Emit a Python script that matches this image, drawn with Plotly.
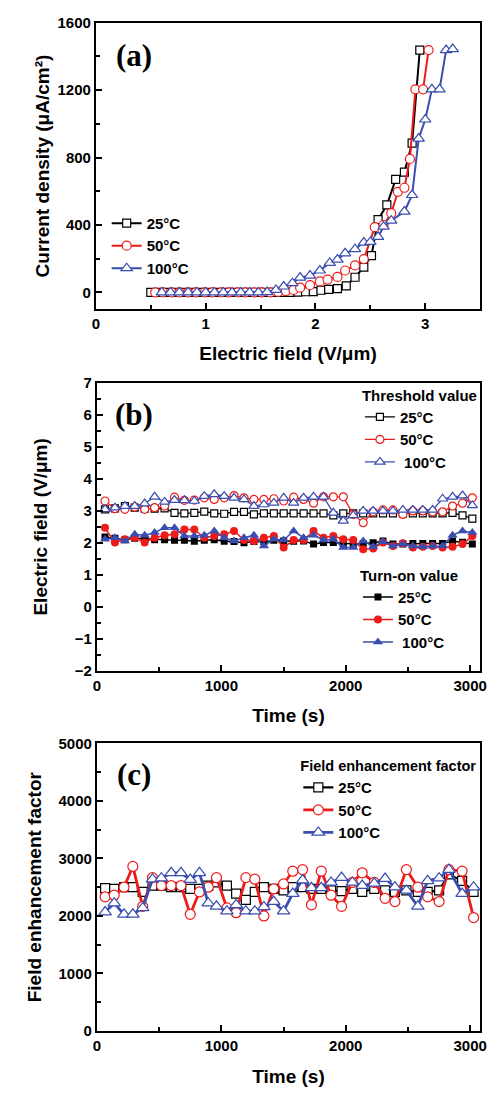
import plotly.graph_objects as go

# ---------------- data ----------------
# (a) J-E curves
E_25 = [0.50, 0.58, 0.65, 0.73, 0.80, 0.88, 0.95, 1.03, 1.10, 1.18, 1.25, 1.33, 1.40, 1.48, 1.55,
        1.63, 1.70, 1.77, 1.84, 1.91, 1.98, 2.05, 2.12, 2.20, 2.28, 2.36, 2.44, 2.51, 2.57, 2.65,
        2.73, 2.81, 2.88, 2.95]
J_25 = [0, 0, 0, 0, 0, 0, 0, 0, 0, 0, 0, 0, 0, 0, 0,
        0, 0, 0, 2, 4, 5, 13, 18, 23, 39, 90, 150, 218, 432, 519,
        671, 714, 886, 1438]
E_50 = [0.54, 0.61, 0.69, 0.76, 0.84, 0.91, 0.99, 1.06, 1.14, 1.21, 1.29, 1.36, 1.44, 1.51, 1.59,
        1.66, 1.73, 1.80, 1.86, 1.95, 2.04, 2.11, 2.20, 2.27, 2.36, 2.44, 2.54, 2.62, 2.69, 2.75,
        2.81, 2.86, 2.91, 2.98, 3.03]
J_50 = [0, 0, 0, 0, 0, 0, 0, 0, 0, 0, 0, 0, 0, 0, 0,
        3, 8, 15, 28, 43, 65, 76, 92, 130, 160, 198, 387, 400, 470, 597,
        621, 792, 1205, 1205, 1438]
E_100 = [0.60, 0.68, 0.76, 0.84, 0.92, 1.00, 1.08, 1.16, 1.24, 1.32, 1.40, 1.48, 1.56, 1.64, 1.71,
         1.79, 1.86, 1.95, 2.04, 2.13, 2.20, 2.27, 2.36, 2.44, 2.50, 2.57, 2.62, 2.69, 2.81, 2.88,
         2.94, 3.00, 3.06, 3.13, 3.19, 3.25]
J_100 = [0, 0, 0, 0, 0, 0, 0, 0, 0, 0, 0, 0, 2, 15, 35,
         55, 88, 100, 130, 175, 195, 232, 257, 296, 300, 330, 390, 426, 480, 578,
         913, 1026, 1205, 1205, 1438, 1444]

# (b) threshold / turn-on field vs time
time_b = [65, 145, 225, 304, 384, 464, 544, 624, 703, 783, 863, 943, 1023, 1102, 1182, 1262, 1342,
          1422, 1501, 1581, 1661, 1741, 1821, 1900, 1980, 2060, 2140, 2220, 2299, 2379, 2459, 2539,
          2619, 2698, 2778, 2858, 2938, 3017]
thr_25 = [3.05, 3.08, 3.15, 3.10, 3.07, 3.07, 3.08, 2.94, 2.92, 2.94, 2.98, 2.92, 2.91, 2.97, 2.97,
          2.89, 2.92, 2.92, 2.92, 2.92, 2.92, 2.92, 2.92, 2.86, 2.92, 2.92, 2.92, 2.92, 2.92, 2.92,
          2.92, 2.92, 2.92, 2.92, 2.92, 2.94, 2.86, 2.76]
thr_50 = [3.31, 3.07, 3.05, 3.12, 3.05, 3.10, 3.15, 3.43, 3.33, 3.34, 3.41, 3.36, 3.41, 3.48, 3.41,
          3.36, 3.36, 3.38, 3.31, 3.43, 3.36, 3.24, 3.44, 3.44, 3.44, 2.89, 2.63, 2.97, 3.03, 3.03,
          2.89, 3.00, 3.00, 2.97, 2.97, 3.15, 3.24, 3.41]
thr_100 = [3.05, 3.10, 3.15, 3.15, 3.23, 3.44, 3.28, 3.34, 3.33, 3.31, 3.46, 3.52, 3.46, 3.41, 3.36,
           3.15, 3.20, 3.25, 3.41, 3.25, 3.41, 3.44, 3.44, 2.94, 2.69, 2.86, 3.00, 3.00, 3.00, 3.00,
           3.03, 3.03, 3.03, 3.03, 3.38, 3.44, 3.48, 3.17]
on_25 = [2.18, 2.14, 2.10, 2.14, 2.12, 2.10, 2.10, 2.08, 2.08, 2.05, 2.08, 2.10, 2.05, 2.04, 2.00,
         2.04, 2.03, 2.08, 2.06, 2.05, 2.06, 1.96, 2.01, 2.01, 1.98, 1.96, 1.98, 2.00, 2.06, 1.96,
         1.96, 1.98, 1.98, 1.98, 1.98, 2.06, 2.02, 1.96]
on_50 = [2.47, 2.01, 2.11, 2.16, 2.01, 2.16, 2.24, 2.27, 2.42, 2.42, 2.16, 2.21, 2.27, 2.37, 2.09,
         2.06, 2.16, 2.21, 1.85, 2.09, 2.09, 2.37, 2.16, 2.21, 2.11, 2.09, 1.80, 1.82, 2.01, 1.90,
         1.99, 1.85, 1.88, 1.90, 1.85, 1.88, 1.96, 2.21]
on_100 = [2.11, 2.16, 2.06, 2.27, 2.24, 2.32, 2.47, 2.47, 2.21, 2.21, 2.24, 2.37, 2.16, 2.06, 2.16,
          2.24, 1.90, 2.11, 2.09, 2.37, 2.16, 2.24, 2.09, 2.11, 1.85, 1.85, 2.06, 1.88, 2.03, 1.90,
          1.96, 1.90, 1.88, 1.90, 1.90, 2.24, 2.37, 2.32]

# (c) field enhancement factor vs time
time_c = [66, 139, 218, 289, 368, 447, 518, 597, 676, 750, 824, 895, 961, 1045, 1119, 1197, 1269,
          1342, 1421, 1500, 1574, 1653, 1724, 1803, 1882, 1966, 2053, 2132, 2229, 2316, 2395, 2487,
          2579, 2658, 2750, 2829, 2935, 3027]
beta_25 = [2483, 2472, 2500, 2500, 2417, 2528, 2528, 2500, 2500, 2472, 2472, 2528, 2583, 2528, 2389,
           2278, 2417, 2500, 2472, 2444, 2500, 2500, 2472, 2472, 2444, 2433, 2472, 2417, 2472, 2444,
           2417, 2444, 2417, 2417, 2444, 2722, 2611, 2417]
beta_50 = [2333, 2361, 2500, 2861, 2167, 2667, 2528, 2528, 2528, 2028, 2417, 2500, 2667, 2139, 2056,
           2667, 2639, 2000, 2472, 2556, 2778, 2806, 2194, 2778, 2361, 2167, 2583, 2750, 2583, 2306,
           2250, 2806, 2500, 2333, 2250, 2806, 2778, 1972]
beta_100 = [2067, 2222, 2028, 2028, 2139, 2639, 2656, 2750, 2750, 2633, 2750, 2222, 2167, 2083, 2194,
            2083, 2083, 2156, 2250, 2083, 2389, 2622, 2489, 2489, 2583, 2667, 2583, 2528, 2567, 2650,
            2500, 2444, 2167, 2611, 2656, 2806, 2389, 2500]

labels = ["25°C", "50°C", "100°C"]

# ---------------- style ----------------
W, H = 495, 1098
FONT = "Liberation Sans, Arial, sans-serif"
BLACK, RED, BLUE = "#000000", "#ee1b1b", "#3a4db0"


def fx(px):
    return px / W


def fy(py):
    return 1 - py / H


fig = go.Figure()


def open_trace(x, y, name, color, symbol, xa, ya, legend, size, lw):
    fig.add_trace(go.Scatter(
        x=x, y=y, name=name, mode="lines+markers", xaxis=xa, yaxis=ya, legend=legend,
        line=dict(color=color, width=lw),
        marker=dict(symbol=symbol, size=size, color="white", line=dict(color=color, width=1.2)),
    ))


def filled_trace(x, y, name, color, symbol, xa, ya, legend, size, lw):
    fig.add_trace(go.Scatter(
        x=x, y=y, name=name, mode="lines+markers", xaxis=xa, yaxis=ya, legend=legend,
        line=dict(color=color, width=lw),
        marker=dict(symbol=symbol, size=size, color=color, line=dict(color=color, width=0)),
    ))


# (a)
open_trace(E_25, J_25, labels[0], BLACK, "square", "x", "y", "legend", 8, 2)
open_trace(E_50, J_50, labels[1], RED, "circle", "x", "y", "legend", 9, 2)
open_trace(E_100, J_100, labels[2], BLUE, "triangle-up", "x", "y", "legend", 10, 2)
# (b)
open_trace(time_b, thr_25, labels[0], BLACK, "square", "x2", "y2", "legend2", 7, 1.3)
open_trace(time_b, thr_50, labels[1], RED, "circle", "x2", "y2", "legend2", 8, 1.3)
open_trace(time_b, thr_100, " " + labels[2], BLUE, "triangle-up", "x2", "y2", "legend2", 9, 1.3)
filled_trace(time_b, on_25, labels[0], BLACK, "square", "x2", "y2", "legend3", 7, 1.5)
filled_trace(time_b, on_50, labels[1], RED, "circle", "x2", "y2", "legend3", 8, 1.5)
filled_trace(time_b, on_100, " " + labels[2], BLUE, "triangle-up", "x2", "y2", "legend3", 9, 1.5)
# (c)
open_trace(time_c, beta_25, labels[0], BLACK, "square", "x3", "y3", "legend4", 9, 2.2)
open_trace(time_c, beta_50, labels[1], RED, "circle", "x3", "y3", "legend4", 10, 2.8)
open_trace(time_c, beta_100, labels[2], BLUE, "triangle-up", "x3", "y3", "legend4", 11, 2.8)

tickfont = dict(family=FONT, size=15, color="black", weight="bold")
titlefont = dict(family=FONT, size=19, color="black", weight="bold")


def axis(domain, rng, dtick, minor, title=None, anchor=None, standoff=10):
    d = dict(domain=domain, range=rng, dtick=dtick, tick0=0, showline=True, linecolor="black",
             linewidth=2, mirror=True, ticks="inside", ticklen=6, tickwidth=1.5, tickcolor="black",
             showgrid=False, zeroline=False, tickfont=tickfont, anchor=anchor,
             minor=dict(ticks="inside", ticklen=4, tickwidth=1.5, tickcolor="black", dtick=minor,
                        showgrid=False))
    if title:
        d["title"] = dict(text=title, font=titlefont, standoff=standoff)
    return d


xdomA = [fx(94), fx(487)]
xdomB = [fx(95), fx(487)]
legfont = dict(family=FONT, size=15, color="black", weight="bold")
legtitle = dict(family=FONT, size=15, color="black", weight="bold")

fig.update_layout(
    width=W, height=H, margin=dict(l=0, r=0, t=0, b=0),
    paper_bgcolor="white", plot_bgcolor="white", showlegend=True,
    xaxis=axis(xdomA, [0, 3.5], 1, 0.5, "Electric field (V/μm)", "y", 15),
    yaxis=axis([fy(305), fy(14)], [-100, 1600], 400, 200,
               "Current density (μA/cm²)", "x", 3),
    xaxis2=axis(xdomB, [0, 3080], 1000, 500, "Time (s)", "y2", 16),
    yaxis2=axis([fy(672), fy(380)], [-2, 7], 1, 0.5, "Electric field (V/μm)", "x2", 22),
    xaxis3=axis(xdomB, [0, 3080], 1000, 500, "Time (s)", "y3", 17),
    yaxis3=axis([fy(1038), fy(746)], [0, 5000], 1000, 500, "Field enhancement factor", "x3", 12),
    legend=dict(x=fx(105), y=fy(201), xanchor="left", yanchor="top", font=legfont,
                bgcolor="rgba(0,0,0,0)", tracegroupgap=0),
    legend2=dict(x=fx(364), y=fy(378), xanchor="left", yanchor="top", font=legfont,
                 bgcolor="rgba(0,0,0,0)", title=dict(text="Threshold value", font=legtitle)),
    legend3=dict(x=fx(362), y=fy(561), xanchor="left", yanchor="top", font=legfont,
                 bgcolor="rgba(0,0,0,0)", title=dict(text="Turn-on value", font=legtitle)),
    legend4=dict(x=fx(301), y=fy(755), xanchor="left", yanchor="top", font=legfont,
                 bgcolor="rgba(0,0,0,0)",
                 title=dict(text="Field enhancement factor",
                            font=dict(family=FONT, size=14.5, color="black", weight="bold"))),
)

panel_font = dict(family="Liberation Serif, Times New Roman, serif", size=31, color="black",
                  weight="bold")
for txt, py in (("(a)", 47), ("(b)", 412), ("(c)", 778)):
    fig.add_annotation(text=txt, x=fx(133), y=fy(py), xref="paper", yref="paper",
                       showarrow=False, font=panel_font, xanchor="center", yanchor="middle")

fig.write_html("out.html")
